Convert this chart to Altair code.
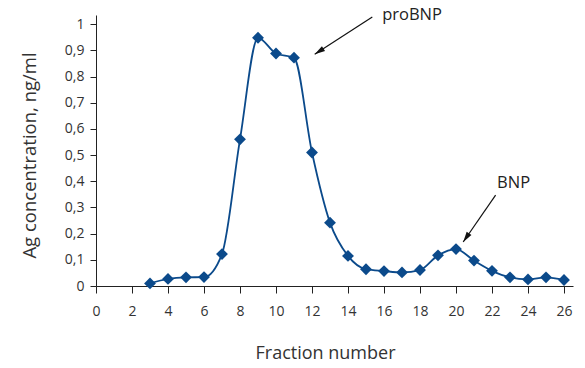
import altair as alt
import pandas as pd

fractions = [3, 4, 5, 6, 7, 8, 9, 10, 11, 12, 13, 14, 15, 16, 17, 18, 19, 20, 21, 22, 23, 24, 25, 26]
conc = [0.010, 0.027, 0.033, 0.034, 0.122, 0.560, 0.948, 0.888, 0.872, 0.510, 0.242, 0.115, 0.064, 0.057,
        0.052, 0.061, 0.117, 0.141, 0.097, 0.058, 0.033, 0.025, 0.033, 0.023]

labels = ["proBNP", "BNP"]
label_x = [15.9, 23.2]
label_y = [1.034, 0.393]
arrow_x = [15.35, 22.2]
arrow_y = [1.027, 0.347]
arrow_x2 = [12.15, 20.4]
arrow_y2 = [0.885, 0.168]
arrow_angle = [237, 214]

x_ticks = list(range(0, 27, 2))
y_ticks = [round(i * 0.1, 1) for i in range(11)]

COLOR = "#0b4a8b"
FONT = "Open Sans"

df = pd.DataFrame({"fraction": fractions, "conc": conc})
ann = pd.DataFrame({"label": labels, "lx": label_x, "ly": label_y, "ax": arrow_x, "ay": arrow_y,
                    "ax2": arrow_x2, "ay2": arrow_y2, "angle": arrow_angle})

xscale = alt.Scale(domain=[0, 26.5], nice=False, zero=False)
yscale = alt.Scale(domain=[0, 1.035], nice=False)

xaxis = alt.Axis(values=x_ticks, title="Fraction number", grid=False, tickSize=7, labelPadding=11,
                 titlePadding=26, titleX=229, labelFontSize=14, titleFontSize=18, labelFont=FONT, titleFont=FONT,
                 labelColor="#333333", titleColor="#333333", titleFontWeight="normal",
                 domainColor="#222222", tickColor="#222222", labelFlush=False, labelOverlap=False)
yaxis = alt.Axis(values=y_ticks, title="Ag concentration, ng/ml", grid=False, tickSize=6, labelPadding=6,
                 titlePadding=25, titleY=140, labelFontSize=14, titleFontSize=18.5, labelFont=FONT, titleFont=FONT,
                 labelColor="#333333", titleColor="#333333", titleFontWeight="normal",
                 domainColor="#222222", tickColor="#222222", labelOverlap=False,
                 labelExpr="datum.value == 0 ? '0' : datum.value == 1 ? '1' : replace(format(datum.value, '.1f'), '.', ',')")


def X(f):
    return alt.X(f, type="quantitative", scale=xscale, axis=xaxis)


def Y(f):
    return alt.Y(f, type="quantitative", scale=yscale, axis=yaxis)


base = alt.Chart(df)
line = base.mark_line(color=COLOR, strokeWidth=1.8, interpolate="monotone").encode(
    x=X("fraction"), y=Y("conc"))
pts = base.mark_point(shape="diamond", filled=True, color=COLOR, opacity=1, size=140).encode(
    x=X("fraction"), y=Y("conc"))

annb = alt.Chart(ann)
rules = annb.mark_rule(color="#111111", strokeWidth=1.2).encode(
    x=X("ax"), y=Y("ay"), x2="ax2:Q", y2="ay2:Q")
heads = annb.mark_point(shape="M0,0 L0.55,2 L-0.55,2 Z", filled=True, color="#111111", opacity=1,
                        size=110).encode(
    x=X("ax2"), y=Y("ay2"), angle=alt.Angle("angle:Q", scale=None))
text_pro = annb.transform_filter("datum.label == 'proBNP'").mark_text(
    fontSize=16.5, font=FONT, color="#222222", baseline="middle", align="left").encode(
    x=X("lx"), y=Y("ly"), text="label:N")
text_bnp = annb.transform_filter("datum.label == 'BNP'").mark_text(
    fontSize=16.5, font=FONT, color="#222222", baseline="middle", align="center").encode(
    x=X("lx"), y=Y("ly"), text="label:N")

chart = alt.layer(line, pts, rules, heads, text_pro, text_bnp).properties(
    width=477, height=271,
    autosize=alt.AutoSizeParams(type="none"),
    padding={"left": 96, "top": 15, "right": 12, "bottom": 82},
    background="white",
).configure_view(stroke=None)

chart.save("out.html", embed_options={"renderer": "svg", "actions": False})
